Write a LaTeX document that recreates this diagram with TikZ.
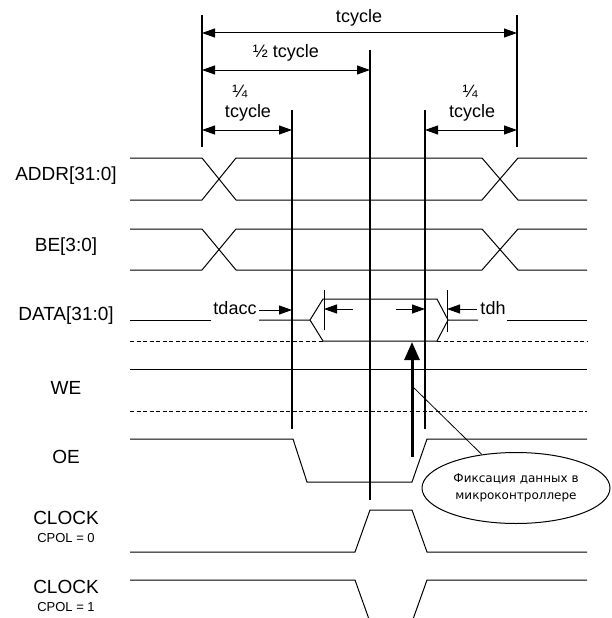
\documentclass[tikz,border=0pt]{standalone}
\usepackage{fontspec}
\setmainfont{Liberation Sans}
\newfontfamily\notefont{DejaVu Sans}
\usetikzlibrary{arrows.meta}
\usetikzlibrary{shapes.geometric}
\tikzset{
 sigline/.style={black, line width=1pt, line join=miter},
 dashline/.style={black, line width=1pt, dash pattern=on 4pt off 2.5pt},
 guide/.style={black, line width=1.1pt},
 dimarrow/.style={black, line width=1pt, {Triangle[length=13pt,width=9pt]}-{Triangle[length=13pt,width=9pt]}},
 smallarrow/.style={black, line width=1pt, -{Triangle[length=13pt,width=9pt]}},
 siglabel/.style={font=\fontsize{19}{22}\selectfont, inner sep=0pt},
 dimlabel/.style={font=\fontsize{18}{21}\selectfont, inner sep=0pt},
 cpollabel/.style={font=\fontsize{13}{15}\selectfont, inner sep=0pt}
}

\begin{document}
\begin{tikzpicture}[x=1pt,y=-1pt]
\useasboundingbox (0,0) rectangle (612,618);
\clip (0,0) rectangle (612,618);
% signal names
\node[siglabel] (addr) at (66,176) {ADDR[31:0]};
\node[siglabel] (be)   at (66,247) {BE[3:0]};
\node[siglabel] (data) at (66,316) {DATA[31:0]};
\node[siglabel] (we)   at (66,388) {WE};
\node[siglabel] (oe)   at (66,457) {OE};
\node[siglabel] (clka) at (66,518) {CLOCK};
\node[cpollabel] (cpola) at (66,538) {CPOL = 0};
\node[siglabel] (clkb) at (66,587) {CLOCK};
\node[cpollabel] (cpolb) at (66,607) {CPOL = 1};
% timing marks
\draw[guide] (202,15) -- (202,147);
\draw[guide] (517,15) -- (517,147);
\draw[guide] (370,50) -- (370,500);
\draw[guide] (292,110) -- (292,429);
\draw[guide] (425,110) -- (425,429);
\draw[dimarrow] (202,33) -- (517,33);
\draw[dimarrow] (202,70) -- (370,70);
\draw[dimarrow] (202,130) -- (292,130);
\draw[dimarrow] (425,130) -- (517,130);
\node[dimlabel] (full) at (359,18) {tcycle};
\node[dimlabel] (half) at (286,53) {½ tcycle};
\node[dimlabel] (qla) at (240,91) {¼};
\node[dimlabel] (qlb) at (248,113) {tcycle};
\node[dimlabel] (qra) at (470,91) {¼};
\node[dimlabel] (qrb) at (472,113) {tcycle};
% address and byte enable
\foreach \yt/\yb in {158/200, 229/270} {
 \draw[sigline] (130,\yt) -- (202,\yt) -- (236,\yb) -- (482,\yb) -- (518,\yt) -- (587,\yt);
 \draw[sigline] (130,\yb) -- (202,\yb) -- (236,\yt) -- (482,\yt) -- (518,\yb) -- (587,\yb);
}
% data
\node[dimlabel] (tdacc) at (235,308) {tdacc};
\node[dimlabel] (tdh) at (493,308) {tdh};
\draw[sigline] (130,320) -- (211,320);
\draw[sigline] (259,320) -- (310,320) -- (323,299) -- (437,299) -- (448,320) -- (478,320);
\draw[sigline] (310,320) -- (323,341) -- (437,341) -- (448,320);
\draw[sigline] (507,320) -- (587,320);
\draw[dashline] (130,341) -- (323,341);
\draw[dashline] (437,341) -- (587,341);
\draw[sigline] (324,290) -- (324,330);
\draw[sigline] (447,290) -- (447,332);
\draw[smallarrow] (259,310) -- (292,310);
\draw[smallarrow] (353,309) -- (324,309);
\draw[smallarrow] (396,309) -- (425,309);
\draw[smallarrow] (477,309) -- (447,309);
% write / output enable
\draw[sigline] (130,369) -- (587,369);
\draw[dashline] (130,411) -- (587,411);
\draw[sigline] (130,439) -- (293,439) -- (307,482) -- (412,482) -- (427,439) -- (587,439);
% clocks
\draw[sigline] (130,552) -- (355,552) -- (370,510) -- (412,510) -- (427,552) -- (587,552);
\draw[sigline] (130,580) -- (355,580) -- (370,622) -- (412,622) -- (427,580) -- (587,580);
% data latch
\draw[black, line width=3pt, -{Triangle[length=18pt,width=15pt]}] (412,457) -- (412,342);
\node[ellipse, draw, line width=1pt, minimum width=188pt, minimum height=71pt, inner sep=0pt,
 align=center, font=\notefont\fontsize{12}{17}\selectfont] (note) at (516,488)
 {Фиксация данных в\\микроконтроллере};
\coordinate (fix) at (412,386);
\draw[black, line width=0.8pt] (fix) -- (note);
\end{tikzpicture}
\end{document}
